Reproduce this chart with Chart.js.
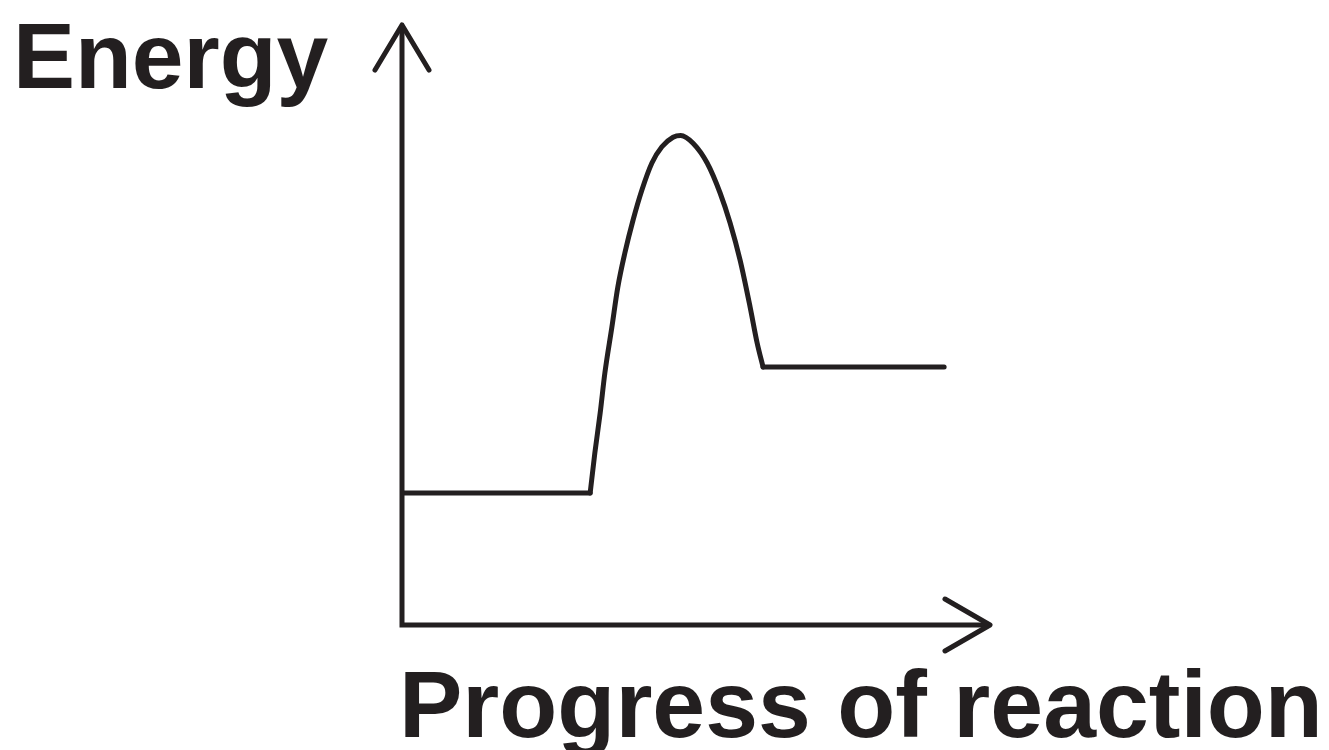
<!DOCTYPE html>
<html>
<head>
<meta charset="utf-8">
<script src="https://cdn.jsdelivr.net/npm/chart.js@4/dist/chart.umd.min.js"></script>
<style>
    html, body { margin: 0; padding: 0; background: #fff; }
    #wrap { width: 1329px; height: 750px; position: relative; }
</style>
</head>
<body>
<div id="wrap"><canvas id="chart"></canvas></div>
<script>
// values (x: progress 0-100, y: energy 0-100)
// flat levels: reactants and products
const levelX = [0, 32.0, null, 61.4, 92.2];
const levelY = [22, 22, null, 43.0, 43.0];
// activation hump between the two levels
const humpX = [32.0, 32.8, 33.7, 34.5, 35.7, 36.7, 37.9, 39.3, 40.8, 42.5, 44.2, 46.1, 47.4, 49.5, 51.9, 54.1, 55.8, 57.5, 59.2, 60.4, 61.4];
const humpY = [22.0, 28.7, 35.3, 42.0, 49.7, 56.3, 62.0, 67.5, 72.5, 77.0, 79.7, 81.3, 81.6, 80.3, 77.0, 72.0, 67.0, 60.8, 53.0, 47.0, 43.0];
const axisMax = [100, 100];
const yTitle = 'Energy';
const xTitle = 'Progress of reaction';

const INK = '#231f20';

function toPoints(xs, ys) {
    return xs.map((x, i) => x === null ? { x: null, y: null } : { x, y: ys[i] });
}

// axes with arrowheads + the two big titles
const axesPlugin = {
    id: 'arrowAxes',
    afterDatasetsDraw(chart) {
        const { ctx, scales: { x, y } } = chart;
        const x0 = x.getPixelForValue(0), x1 = x.getPixelForValue(axisMax[0]);
        const y0 = y.getPixelForValue(0), y1 = y.getPixelForValue(axisMax[1]);
        ctx.save();
        ctx.strokeStyle = INK;
        ctx.lineWidth = 5;
        ctx.lineJoin = 'miter';
        ctx.lineCap = 'butt';
        ctx.beginPath();
        ctx.moveTo(x0, y1);
        ctx.lineTo(x0, y0);
        ctx.lineTo(x1, y0);
        ctx.stroke();
        // arrow heads
        ctx.lineCap = 'round';
        ctx.lineJoin = 'round';
        ctx.beginPath();
        ctx.moveTo(x0 - 27, y1 + 45);
        ctx.lineTo(x0, y1);
        ctx.lineTo(x0 + 27, y1 + 45);
        ctx.moveTo(x1 - 45, y0 - 26);
        ctx.lineTo(x1, y0);
        ctx.lineTo(x1 - 45, y0 + 26);
        ctx.stroke();

        ctx.fillStyle = INK;
        ctx.textBaseline = 'alphabetic';
        ctx.textAlign = 'left';
        ctx.font = 'bold 93px "Liberation Sans", Arial, sans-serif';
        ctx.fillText(yTitle, 13, 88);
        ctx.font = 'bold 95px "Liberation Sans", Arial, sans-serif';
        ctx.fillText(xTitle, x0 - 3, y0 + 112);
        ctx.restore();
    }
};

const line = {
    borderColor: INK,
    borderWidth: 5,
    pointRadius: 0,
    borderCapStyle: 'round',
    borderJoinStyle: 'miter',
    fill: false,
};

new Chart(document.getElementById('chart'), {
    type: 'line',
    data: {
        datasets: [
            { ...line, data: toPoints(levelX, levelY), tension: 0, spanGaps: false },
            { ...line, data: toPoints(humpX, humpY), cubicInterpolationMode: 'monotone' },
        ],
    },
    options: {
        responsive: true,
        maintainAspectRatio: false,
        animation: false,
        layout: { padding: { left: 402, right: 339, top: 25, bottom: 125 } },
        scales: {
            x: { type: 'linear', min: 0, max: axisMax[0], display: false },
            y: { type: 'linear', min: 0, max: axisMax[1], display: false },
        },
        plugins: {
            legend: { display: false },
            tooltip: { enabled: false },
        },
    },
    plugins: [axesPlugin],
});
</script>
</body>
</html>
